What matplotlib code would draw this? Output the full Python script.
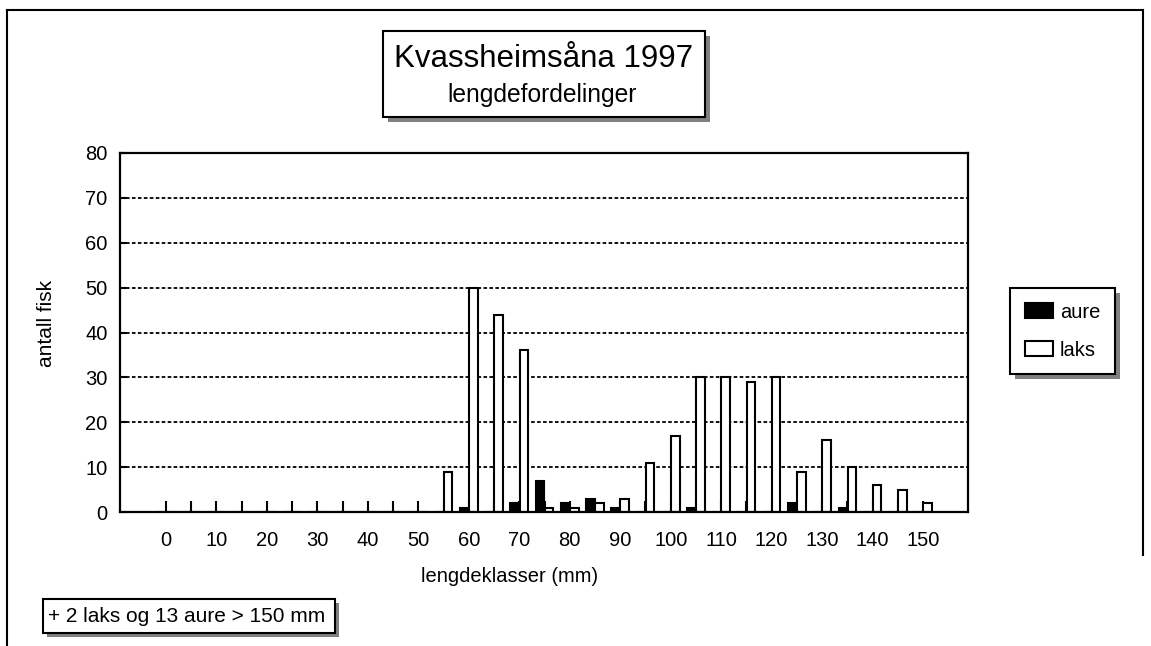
import matplotlib
matplotlib.use("Agg")
import matplotlib.pyplot as plt
from matplotlib.patches import Rectangle, Patch
from matplotlib.lines import Line2D
import numpy as np

plt.rcParams['font.family'] = ['Liberation Sans', 'DejaVu Sans']

# ---- data ----
categories = list(range(0, 155, 5))
aure = [0, 0, 0, 0, 0, 0, 0, 0, 0, 0, 0,
        0, 1, 0, 2, 7, 2, 3, 1, 0, 0, 1, 0, 0, 0, 2, 0, 1, 0, 0, 0]
laks = [0, 0, 0, 0, 0, 0, 0, 0, 0, 0, 0,
        9, 50, 44, 36, 1, 1, 2, 3, 11, 17, 30, 30, 29, 30, 9, 16, 10, 6, 5, 2]
tick_labels = [str(v) for v in range(0, 160, 10)]
series_names = ['aure', 'laks']
title = "Kvassheimsåna 1997"
subtitle = "lengdefordelinger"
xlabel = "lengdeklasser (mm)"
ylabel = "antall fisk"
footnote = "+ 2 laks og 13 aure > 150 mm"

W, H = 1151, 646
fig = plt.figure(figsize=(W / 100, H / 100), dpi=100)


def fx(px):
    return px / W


def fy(py):
    return 1 - py / H


ax = fig.add_axes([fx(120), fy(512), fx(968) - fx(120), fy(153) - fy(512)])

x = np.array(categories, dtype=float)
bw = 1.7
ax.bar(x - 0.9, aure, width=bw, color='black', edgecolor='black', linewidth=1.5, zorder=3)
ax.bar(x + 0.9, laks, width=bw, color='white', edgecolor='black', linewidth=1.5, zorder=3)

ax.set_xlim(-9.1, 158.9)
ax.set_ylim(0, 80)
ax.set_yticks(range(0, 90, 10))
ax.set_xticks(range(0, 160, 10))
ax.set_xticklabels(tick_labels)
ax.set_xticks(range(5, 155, 10), minor=True)
ax.tick_params(axis='x', which='both', direction='in', length=8, width=1.5,
               pad=13.5, labelsize=14.5)
ax.tick_params(axis='y', direction='in', length=5, width=1.5, pad=9, labelsize=14.5)
ax.yaxis.grid(True, color='black', linestyle=(0, (2, 1.3)), linewidth=1.3, zorder=1)
ax.set_axisbelow(True)
for s in ax.spines.values():
    s.set_linewidth(1.6)
    s.set_zorder(4)

fig.text(fx(510), fy(577), xlabel, ha='center', va='center', fontsize=14.5)
fig.text(fx(47), fy(323), ylabel, ha='center', va='center', rotation=90, fontsize=15)


def box(x0, y0, x1, y1, off):
    fig.add_artist(Rectangle((fx(x0 + off), fy(y1 + off)), fx(x1) - fx(x0), fy(y0) - fy(y1),
                             transform=fig.transFigure, facecolor='#808080',
                             edgecolor='none', zorder=2))
    fig.add_artist(Rectangle((fx(x0), fy(y1)), fx(x1) - fx(x0), fy(y0) - fy(y1),
                             transform=fig.transFigure, facecolor='white',
                             edgecolor='black', linewidth=1.5, zorder=3))


# title box
box(383, 31, 705, 117, 5)
fig.text(fx(544), fy(66.7), title, ha='center', va='baseline', fontsize=22.5, zorder=4)
fig.text(fx(542), fy(101.7), subtitle, ha='center', va='baseline', fontsize=17.7, zorder=4)

# footnote box
box(43, 599, 335, 633, 4)
fig.text(fx(48), fy(616), footnote, ha='left', va='center', fontsize=15, zorder=4)

# legend
handles = [Patch(facecolor='black', edgecolor='black', linewidth=1.5),
           Patch(facecolor='white', edgecolor='black', linewidth=1.5)]
leg = fig.legend(handles, series_names, loc='upper left',
                 bbox_to_anchor=(fx(1010), fy(288)), borderaxespad=0,
                 frameon=True, fancybox=False, fontsize=14.5, borderpad=0.72,
                 handlelength=1.4, handleheight=0.8, handletextpad=0.35,
                 labelspacing=0.95)
leg.get_frame().set_edgecolor('black')
leg.get_frame().set_linewidth(1.5)
leg.get_frame().set_alpha(1)
leg.set_zorder(5)
fig.canvas.draw()
bb = leg.get_window_extent()
fig.add_artist(Rectangle(((bb.x0 + 5) / W, (bb.y0 - 5) / H), bb.width / W, bb.height / H,
                         transform=fig.transFigure, facecolor='#808080',
                         edgecolor='none', zorder=4))

# outer border
fig.add_artist(Line2D([fx(7), fx(7)], [fy(646), fy(10)], transform=fig.transFigure,
                      color='black', linewidth=1.5))
fig.add_artist(Line2D([fx(7), fx(1143)], [fy(10), fy(10)], transform=fig.transFigure,
                      color='black', linewidth=1.5))
fig.add_artist(Line2D([fx(1143), fx(1143)], [fy(10), fy(555)], transform=fig.transFigure,
                      color='black', linewidth=1.5))

fig.savefig("out.png", dpi=100)
